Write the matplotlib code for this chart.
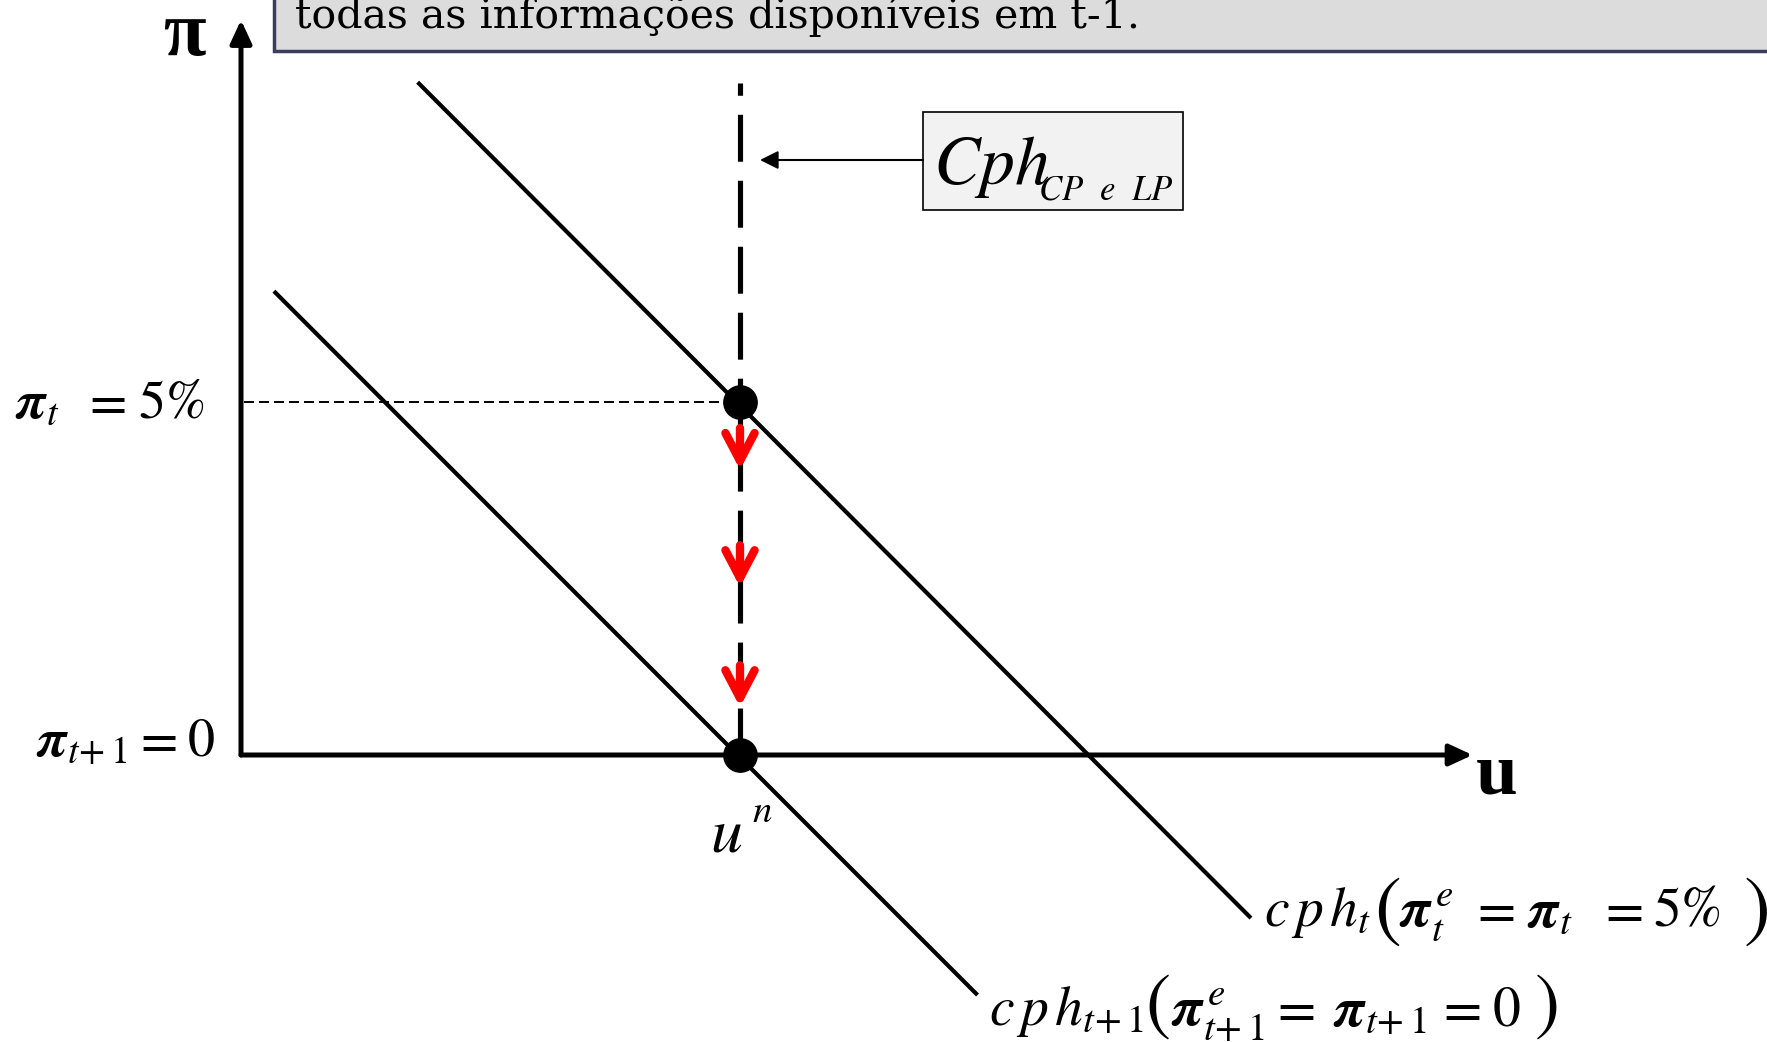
import matplotlib
matplotlib.use('Agg')
import matplotlib.pyplot as plt
from matplotlib.patches import Rectangle, FancyArrowPatch
from matplotlib.transforms import Affine2D

plt.rcParams['mathtext.fontset'] = 'stix'
plt.rcParams['lines.scale_dashes'] = False

# ---------------- data (economic units: u and pi) ----------------
u_n = 5.0            # natural unemployment rate
pi_t = 5.0           # inflation in t (5%)
pi_t1 = 0.0          # inflation in t+1
cph_t_u = [1.77, 10.12]
cph_t_pi = [9.53, -2.31]
cph_t1_u = [0.33, 7.38]
cph_t1_pi = [6.57, -3.40]
lr_top = 9.52                      # top of vertical (long-run) curve
arrow_start = [4.63, 2.97, 1.27]   # red arrows (pi values)
arrow_end = [4.04, 2.38, 0.68]
u_axis_end = 12.34
pi_axis_end = 10.41

W, H, DPI = 1767, 1042, 100
# pixel mapping of the diagram (origin and scale)
OX, OY, SX, SY = 241.0, 755.0, 99.8, 70.6

fig = plt.figure(figsize=(W / DPI, H / DPI), dpi=DPI)
ax = fig.add_axes([0, 0, 1, 1])
ax.set_xlim(-OX / SX, (W - OX) / SX)
ax.set_ylim((OY - H) / SY, OY / SY)
ax.axis('off')

# pixel transform (x from left, y from top) for annotations
pix = Affine2D().scale(1.0 / W, -1.0 / H).translate(0, 1) + fig.transFigure

# ---------------- axes ----------------
for xy, xyt in [((0, pi_axis_end), (0, 0)), ((u_axis_end, 0), (0, 0))]:
    ax.annotate('', xy=xy, xytext=xyt,
                arrowprops=dict(arrowstyle='-|>,head_length=1.4,head_width=0.65',
                                lw=3.6, color='black', shrinkA=0, shrinkB=0,
                                mutation_scale=10), zorder=3)

# ---------------- short-run Phillips curves ----------------
ax.plot(cph_t_u, cph_t_pi, color='black', lw=3.0, solid_capstyle='butt', zorder=2)
ax.plot(cph_t1_u, cph_t1_pi, color='black', lw=3.0, solid_capstyle='butt', zorder=2)

# vertical curve (CP e LP)
vl, = ax.plot([u_n, u_n], [0, lr_top], color='black', lw=3.7, zorder=2,
              solid_capstyle='butt', dash_capstyle='butt')
vl.set_dashes((33.8, 13.7))

# thin dashed guide at pi_t
gl, = ax.plot([0.03, u_n], [pi_t, pi_t], color='black', lw=1.4, zorder=1)
gl.set_dashes((7.2, 3.6))

# red arrows
for s, e in zip(arrow_start, arrow_end):
    ax.add_patch(FancyArrowPatch((u_n, s), (u_n, e),
                                 arrowstyle='->,head_length=2.0,head_width=1.05',
                                 mutation_scale=10, lw=6.0, color='#ff0000',
                                 shrinkA=0, shrinkB=0, zorder=4,
                                 capstyle='round', joinstyle='round'))

# dots
ax.plot([u_n, u_n], [pi_t, pi_t1], 'o', color='black', ms=24, zorder=5)

# ---------------- labels ----------------
def ptext(x, y, s, size, **kw):
    kw.setdefault('ha', 'left')
    kw.setdefault('va', 'baseline')
    return fig.text(x, y, s, transform=pix, fontsize=size, **kw)

def tokens(y, items, size):
    for x, s in items:
        ptext(x, y, s, size)

T1 = r't\!+1'
PI = r'\boldsymbol{\pi}'

ptext(163, 55, 'π', 56, fontweight='bold', family='Liberation Serif')
ptext(1476, 793, 'u', 54, fontweight='bold', family='Liberation Serif')

tokens(418, [(15, '$' + PI + r'_t$'), (82, r'$=$'), (138, r'$5\%$')], 39)
tokens(756, [(36, '$' + PI + '_{' + T1 + '}$'), (133, r'$=$'), (187, r'$0$')], 39)

ptext(710, 852, r'$u$', 46)
ptext(752, 822, r'$n$', 28)

# cph_t label
tokens(926, [(1264, r'$c\,p\,h_t$'), (1399, '$' + PI + r'_t^{\,e}$'), (1469, r'$=$'),
             (1527, '$' + PI + r'_t$'), (1597, r'$=$'), (1653, r'$5\%$')], 40)
ptext(1374, 932, r'$($', 58)
ptext(1743, 932, r'$)$', 58)

# cph_{t+1} label
tokens(1025, [(989, r'$c\,p\,h_{' + T1 + '}$'), (1171, '$' + PI + '_{' + T1 + r'}^{\,e}$'),
              (1269, r'$=$'), (1333, '$' + PI + '_{' + T1 + '}$'), (1435, r'$=$'),
              (1492, r'$0$')], 40)
ptext(1145, 1026, r'$($', 54)
ptext(1534, 1026, r'$)$', 54)

# Cph box
fig.patches.append(Rectangle((923, 112), 260, 98, transform=pix,
                             facecolor='#f2f2f2', edgecolor='black', lw=1.2,
                             zorder=3))
ptext(933, 184, r'$Cph$', 50, zorder=4)
ptext(1038, 200, r'$CP\ \ e\ \ LP$', 25, zorder=4)
fig.patches.append(FancyArrowPatch((923, 160), (760, 160), transform=pix,
                                   arrowstyle='-|>,head_length=1.1,head_width=0.55',
                                   mutation_scale=10, lw=1.5, color='black',
                                   shrinkA=0, shrinkB=0, zorder=3))

# top text box (cut off)
fig.patches.append(Rectangle((274, -20), 1600, 71, transform=pix,
                             facecolor='#dcdcdc', edgecolor='#3c3c5c', lw=2.5,
                             zorder=3))
ptext(295, 28, 'todas as informações disponíveis em t-1.', 29.6,
      family='DejaVu Serif', zorder=4)

fig.savefig('out.png', dpi=DPI)
